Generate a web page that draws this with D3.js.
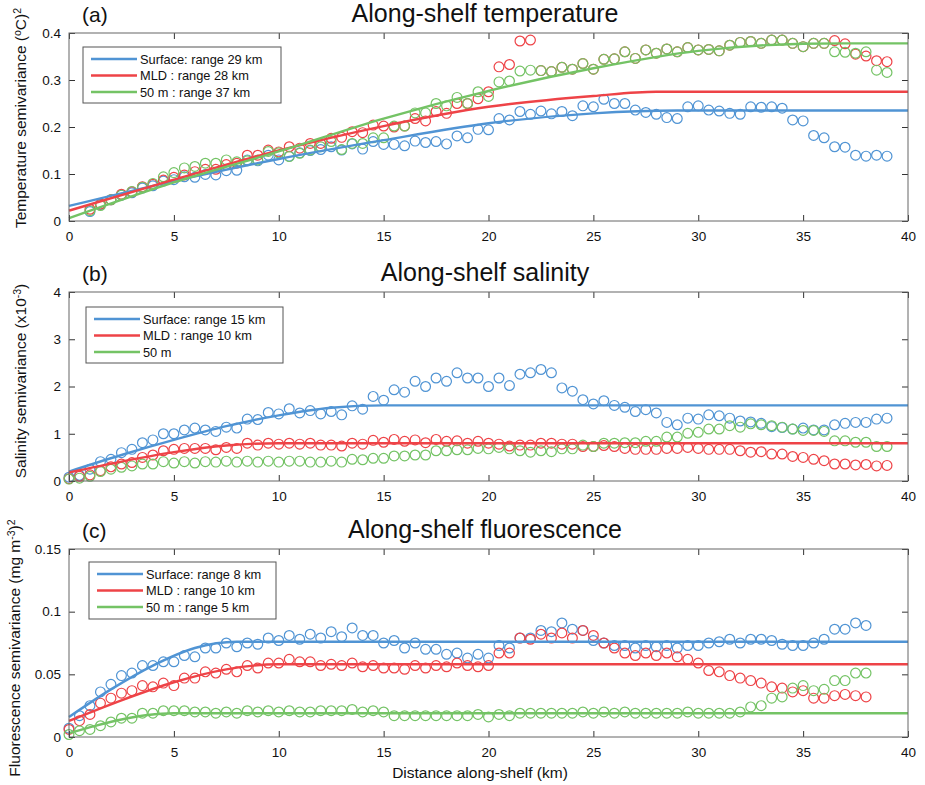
<!DOCTYPE html>
<html>
<head>
<meta charset="utf-8">
<script src="https://cdn.jsdelivr.net/npm/d3@7"></script>
<style>
  body { margin: 0; background: #fff; }
  svg { display: block; }
  text { font-family: "Liberation Sans", Arial, Helvetica, sans-serif; fill: #111; }
</style>
</head>
<body>
<div id="chart"></div>
<script>
// lag bins (km), one every 0.5 km
const lagsTemp = d3.range(1, 39.001, 0.5)
const lagsSal = d3.range(0, 39.001, 0.5)
const lagsFluo = d3.range(0, 38.001, 0.5)

// (a) temperature semivariance
const tempSurface = [
  0.02, 0.035, 0.045, 0.055, 0.06, 0.07, 0.075, 0.085, 0.088, 0.094,
  0.093, 0.099, 0.098, 0.107, 0.108, 0.13, 0.128, 0.14, 0.13, 0.138,
  0.145, 0.15, 0.152, 0.158, 0.151, 0.164, 0.153, 0.169, 0.163, 0.163,
  0.16, 0.17, 0.167, 0.169, 0.164, 0.181, 0.177, 0.195, 0.194, 0.218,
  0.215, 0.233, 0.227, 0.234, 0.228, 0.233, 0.224, 0.245, 0.243, 0.259,
  0.25, 0.25, 0.236, 0.231, 0.227, 0.22, 0.218, 0.243, 0.245, 0.236,
  0.234, 0.229, 0.227, 0.243, 0.242, 0.243, 0.24, 0.215, 0.213, 0.182,
  0.177, 0.158, 0.157, 0.14, 0.138, 0.14, 0.138,
]
const tempMLD = [
  0.025, 0.036, 0.045, 0.057, 0.062, 0.073, 0.078, 0.087, 0.093, 0.098,
  0.105, 0.11, 0.11, 0.12, 0.123, 0.14, 0.14, 0.151, 0.147, 0.158,
  0.155, 0.165, 0.165, 0.176, 0.178, 0.19, 0.188, 0.204, 0.202, 0.2,
  0.202, 0.218, 0.213, 0.233, 0.229, 0.25, 0.25, 0.26, 0.275, 0.328,
  0.333, 0.383, 0.385, 0.32, 0.318, 0.327, 0.323, 0.335, 0.323, 0.344,
  0.345, 0.36, 0.346, 0.364, 0.357, 0.366, 0.36, 0.369, 0.364, 0.365,
  0.362, 0.374, 0.38, 0.382, 0.378, 0.385, 0.385, 0.378, 0.371, 0.378,
  0.378, 0.384, 0.377, 0.355, 0.351, 0.341, 0.339,
]
const temp50m = [
  0.022, 0.033, 0.045, 0.055, 0.063, 0.072, 0.08, 0.094, 0.103, 0.113,
  0.116, 0.123, 0.123, 0.13, 0.126, 0.128, 0.13, 0.148, 0.145, 0.137,
  0.144, 0.151, 0.158, 0.169, 0.152, 0.165, 0.165, 0.177, 0.177, 0.202,
  0.202, 0.23, 0.23, 0.25, 0.245, 0.263, 0.25, 0.275, 0.265, 0.296,
  0.298, 0.319, 0.321, 0.32, 0.318, 0.327, 0.323, 0.335, 0.323, 0.344,
  0.345, 0.36, 0.346, 0.364, 0.357, 0.366, 0.36, 0.369, 0.364, 0.365,
  0.362, 0.374, 0.38, 0.382, 0.378, 0.385, 0.385, 0.378, 0.371, 0.378,
  0.378, 0.36, 0.359, 0.357, 0.36, 0.321, 0.316,
]
// fitted models, read at a few distances
const tempFitSurfaceX = [0, 5, 10, 15, 20, 25, 29, 40]
const tempFitSurface = [0.032, 0.085, 0.132, 0.172, 0.208, 0.229, 0.235, 0.235]
const tempFitMLDX = [0, 5, 10, 15, 20, 25, 28, 40]
const tempFitMLD = [0.022, 0.088, 0.15, 0.202, 0.243, 0.266, 0.275, 0.275]
const tempFit50mX = [0, 5, 10, 15, 20, 25, 30, 35, 37, 40]
const tempFit50m = [0.006, 0.082, 0.148, 0.218, 0.277, 0.325, 0.362, 0.377, 0.378, 0.378]

// (b) salinity semivariance (x10^-3)
const salSurface = [
  0.08, 0.12, 0.25, 0.41, 0.46, 0.6, 0.67, 0.81, 0.87, 1.0,
  1.0, 1.08, 1.12, 1.08, 1.05, 1.14, 1.12, 1.31, 1.3, 1.45,
  1.42, 1.53, 1.44, 1.49, 1.42, 1.47, 1.4, 1.59, 1.52, 1.79,
  1.71, 1.93, 1.88, 2.11, 2.0, 2.18, 2.11, 2.29, 2.18, 2.18,
  2.0, 2.18, 2.02, 2.26, 2.29, 2.36, 2.29, 1.97, 1.9, 1.72,
  1.63, 1.7, 1.6, 1.56, 1.47, 1.51, 1.44, 1.24, 1.19, 1.33,
  1.31, 1.4, 1.38, 1.33, 1.27, 1.25, 1.22, 1.15, 1.13, 1.1,
  1.12, 1.08, 1.08, 1.19, 1.22, 1.24, 1.24, 1.31, 1.33,
]
const salMLD = [
  0.05, 0.1, 0.13, 0.22, 0.3, 0.36, 0.39, 0.5, 0.55, 0.64,
  0.67, 0.69, 0.69, 0.69, 0.66, 0.71, 0.69, 0.8, 0.76, 0.8,
  0.78, 0.8, 0.78, 0.8, 0.76, 0.76, 0.74, 0.8, 0.78, 0.86,
  0.82, 0.88, 0.84, 0.87, 0.81, 0.88, 0.84, 0.85, 0.8, 0.84,
  0.8, 0.78, 0.74, 0.76, 0.76, 0.8, 0.8, 0.78, 0.78, 0.73,
  0.73, 0.75, 0.73, 0.69, 0.67, 0.67, 0.67, 0.69, 0.69, 0.71,
  0.69, 0.67, 0.67, 0.67, 0.64, 0.61, 0.62, 0.57, 0.57, 0.52,
  0.5, 0.46, 0.43, 0.36, 0.36, 0.34, 0.35, 0.32, 0.33,
]
const sal50m = [
  0.04, 0.06, 0.1, 0.2, 0.25, 0.29, 0.32, 0.36, 0.36, 0.41,
  0.38, 0.41, 0.38, 0.41, 0.4, 0.42, 0.4, 0.42, 0.4, 0.42,
  0.4, 0.42, 0.42, 0.4, 0.4, 0.42, 0.4, 0.46, 0.45, 0.48,
  0.48, 0.53, 0.53, 0.55, 0.55, 0.64, 0.64, 0.66, 0.66, 0.69,
  0.68, 0.71, 0.68, 0.64, 0.61, 0.64, 0.62, 0.68, 0.68, 0.76,
  0.73, 0.8, 0.8, 0.81, 0.81, 0.84, 0.84, 0.93, 0.93, 1.01,
  1.03, 1.1, 1.1, 1.17, 1.14, 1.21, 1.19, 1.17, 1.14, 1.1,
  1.07, 1.07, 1.05, 0.85, 0.85, 0.82, 0.82, 0.73, 0.73,
]
const salFitSurfaceX = [0, 2.5, 5, 7.5, 10, 12.5, 15, 40]
const salFitSurface = [0.2, 0.55, 0.87, 1.16, 1.39, 1.55, 1.6, 1.6]
const salFitMLDX = [0, 2.5, 5, 7.5, 10, 40]
const salFitMLD = [0.18, 0.41, 0.61, 0.75, 0.8, 0.8]

// (c) fluorescence semivariance
const fluoSurface = [
  0.007, 0.017, 0.025, 0.036, 0.042, 0.049, 0.051, 0.057, 0.057, 0.06,
  0.06, 0.065, 0.064, 0.071, 0.071, 0.075, 0.072, 0.075, 0.074, 0.079,
  0.077, 0.081, 0.078, 0.082, 0.079, 0.084, 0.08, 0.087, 0.081, 0.081,
  0.075, 0.077, 0.071, 0.075, 0.07, 0.07, 0.066, 0.067, 0.063, 0.066,
  0.063, 0.073, 0.071, 0.079, 0.079, 0.085, 0.084, 0.091, 0.086, 0.085,
  0.077, 0.075, 0.073, 0.073, 0.071, 0.073, 0.072, 0.073, 0.071, 0.073,
  0.073, 0.075, 0.076, 0.078, 0.075, 0.078, 0.078, 0.077, 0.074, 0.073,
  0.073, 0.075, 0.078, 0.086, 0.086, 0.091, 0.089,
]
const fluoMLD = [
  0.006, 0.013, 0.018, 0.027, 0.031, 0.035, 0.037, 0.041, 0.04, 0.043,
  0.041, 0.047, 0.047, 0.052, 0.051, 0.054, 0.052, 0.057, 0.055, 0.059,
  0.059, 0.062, 0.06, 0.06, 0.057, 0.058, 0.057, 0.059, 0.056, 0.057,
  0.055, 0.055, 0.054, 0.057, 0.055, 0.057, 0.056, 0.059, 0.057, 0.056,
  0.057, 0.067, 0.067, 0.079, 0.078, 0.082, 0.079, 0.083, 0.079, 0.085,
  0.081, 0.075, 0.071, 0.067, 0.065, 0.067, 0.065, 0.067, 0.064, 0.062,
  0.059, 0.053, 0.052, 0.049, 0.047, 0.045, 0.043, 0.04, 0.039, 0.036,
  0.037, 0.031, 0.031, 0.033, 0.034, 0.033, 0.032,
]
const fluo50m = [
  0.002, 0.005, 0.006, 0.009, 0.012, 0.015, 0.015, 0.019, 0.019, 0.021,
  0.021, 0.021, 0.02, 0.02, 0.019, 0.02, 0.019, 0.021, 0.02, 0.021,
  0.02, 0.021, 0.02, 0.02, 0.021, 0.021, 0.021, 0.022, 0.02, 0.021,
  0.02, 0.017, 0.017, 0.017, 0.017, 0.017, 0.017, 0.017, 0.017, 0.018,
  0.016, 0.018, 0.017, 0.019, 0.019, 0.019, 0.019, 0.019, 0.019, 0.02,
  0.019, 0.02, 0.019, 0.02, 0.019, 0.019, 0.019, 0.019, 0.019, 0.02,
  0.019, 0.019, 0.019, 0.019, 0.02, 0.024, 0.025, 0.031, 0.032, 0.039,
  0.041, 0.037, 0.038, 0.045, 0.045, 0.051, 0.051,
]
const fluoFitSurfaceX = [0, 2, 4, 6, 8, 40]
const fluoFitSurface = [0.016, 0.038, 0.057, 0.071, 0.076, 0.076]
const fluoFitMLDX = [0, 2.5, 5, 7.5, 10, 40]
const fluoFitMLD = [0.0128, 0.0293, 0.0437, 0.054, 0.058, 0.058]
const fluoFit50mX = [0, 1.25, 2.5, 3.75, 5, 40]
const fluoFit50m = [0.003, 0.0089, 0.014, 0.0176, 0.019, 0.019]

const xTicks = [0, 5, 10, 15, 20, 25, 30, 35, 40]
const colors = { surface: '#5094d4', mld: '#ee4347', m50: '#74c365' }

const width = 925
const height = 785
const plotLeft = 69
const plotRight = 908

const svg = d3.select('#chart').append('svg').attr('width', width).attr('height', height)

const x = d3.scaleLinear().domain([0, 40]).range([plotLeft, plotRight])

const zip = (xs, ys) => xs.map((d, i) => [d, ys[i]])

const panels = [
  {
    tag: '(a)', title: 'Along-shelf temperature', top: 33, bottom: 221,
    yMax: 0.4, yTicks: [0, 0.1, 0.2, 0.3, 0.4], labelX: 26, labelY: 118,
    ylabel: [['Temperature semivariance (', 0], ['o', 1], ['C)', 0], ['2', 1]],
    legend: { dx: 14, dy: 14, w: 198, h: 56 },
    legendText: ['Surface: range 29 km', 'MLD : range 28 km', '50 m : range 37 km'],
    points: [[lagsTemp, tempSurface, 'surface'], [lagsTemp, tempMLD, 'mld'], [lagsTemp, temp50m, 'm50']],
    fits: [[tempFitSurfaceX, tempFitSurface, 'surface'], [tempFitMLDX, tempFitMLD, 'mld'], [tempFit50mX, tempFit50m, 'm50']],
  },
  {
    tag: '(b)', title: 'Along-shelf salinity', top: 292, bottom: 481,
    yMax: 4, yTicks: [0, 1, 2, 3, 4], labelX: 26, labelY: 381,
    ylabel: [['Salinity semivariance (x10', 0], ['-3', 1], [')', 0]],
    legend: { dx: 17, dy: 15, w: 197, h: 56 },
    legendText: ['Surface: range 15 km', 'MLD : range 10 km', '50 m'],
    points: [[lagsSal, salSurface, 'surface'], [lagsSal, salMLD, 'mld'], [lagsSal, sal50m, 'm50']],
    fits: [[salFitSurfaceX, salFitSurface, 'surface'], [salFitMLDX, salFitMLD, 'mld']],
  },
  {
    tag: '(c)', title: 'Along-shelf fluorescence', top: 549, bottom: 737,
    yMax: 0.15, yTicks: [0, 0.05, 0.1, 0.15], labelX: 20, labelY: 648,
    ylabel: [['Fluorescence semivariance (mg m', 0], ['-3', 1], [')', 0], ['2', 1]],
    legend: { dx: 20, dy: 13, w: 187, h: 57 },
    legendText: ['Surface: range 8 km', 'MLD : range 10 km', '50 m : range 5 km'],
    points: [[lagsFluo, fluoSurface, 'surface'], [lagsFluo, fluoMLD, 'mld'], [lagsFluo, fluo50m, 'm50']],
    fits: [[fluoFitSurfaceX, fluoFitSurface, 'surface'], [fluoFitMLDX, fluoFitMLD, 'mld'], [fluoFit50mX, fluoFit50m, 'm50']],
  },
]

panels.forEach(p => {
  const y = d3.scaleLinear().domain([0, p.yMax]).range([p.bottom, p.top])
  const g = svg.append('g')

  // 標記點
  p.points.forEach(([xs, ys, key]) => {
    g.append('g')
      .selectAll('circle')
      .data(zip(xs, ys))
      .join('circle')
      .attr('cx', d => x(d[0]))
      .attr('cy', d => y(d[1]))
      .attr('r', 4.9)
      .attr('fill', 'none')
      .attr('stroke', colors[key])
      .attr('stroke-width', 1.2)
  })

  // 擬合曲線
  const line = d3.line().x(d => x(d[0])).y(d => y(d[1])).curve(d3.curveMonotoneX)
  p.fits.forEach(([xs, ys, key]) => {
    g.append('path')
      .attr('d', line(zip(xs, ys)))
      .attr('fill', 'none')
      .attr('stroke', colors[key])
      .attr('stroke-width', 2.4)
  })

  // axes, ticks inside
  const xAxis = d3.axisBottom(x).tickValues(xTicks).tickSize(-6).tickPadding(10)
  const xTop = d3.axisTop(x).tickValues(xTicks).tickSize(-6).tickFormat('')
  const yAxis = d3.axisLeft(y).tickValues(p.yTicks).tickSize(-6).tickPadding(8)
    .tickFormat(d => (d === 0 ? '0' : String(d)))
  const yRight = d3.axisRight(y).tickValues(p.yTicks).tickSize(-6).tickFormat('')

  const styleAxis = sel => {
    sel.select('.domain').remove()
    sel.selectAll('line').attr('stroke', '#333')
    sel.selectAll('text').style('font-size', '13.5px').attr('fill', '#111')
  }
  g.append('g').attr('transform', `translate(0,${p.bottom})`).call(xAxis).call(styleAxis)
  g.append('g').attr('transform', `translate(0,${p.top})`).call(xTop).call(styleAxis)
  g.append('g').attr('transform', `translate(${plotLeft},0)`).call(yAxis).call(styleAxis)
  g.append('g').attr('transform', `translate(${plotRight},0)`).call(yRight).call(styleAxis)

  g.append('rect')
    .attr('x', plotLeft).attr('y', p.top)
    .attr('width', plotRight - plotLeft).attr('height', p.bottom - p.top)
    .attr('fill', 'none').attr('stroke', '#666').attr('stroke-width', 1)

  // 標題
  g.append('text')
    .attr('x', 485).attr('y', p.top - 11)
    .attr('text-anchor', 'middle')
    .style('font-size', '25px')
    .text(p.title)
  g.append('text')
    .attr('x', 82).attr('y', p.top - 11)
    .style('font-size', '21px')
    .text(p.tag)

  // y label with superscripts
  const yl = g.append('text')
    .attr('transform', `translate(${p.labelX},${p.labelY}) rotate(-90)`)
    .attr('text-anchor', 'middle')
    .style('font-size', '15.5px')
  let raised = false
  p.ylabel.forEach(([t, sup]) => {
    const ts = yl.append('tspan').text(t)
    if (sup && !raised) ts.attr('dy', -5).style('font-size', '10.5px')
    if (!sup && raised) ts.attr('dy', 5)
    if (sup && raised) ts.style('font-size', '10.5px')
    raised = !!sup
  })

  // 圖例
  const lg = g.append('g').attr('transform', `translate(${plotLeft + p.legend.dx},${p.top + p.legend.dy})`)
  lg.append('rect')
    .attr('width', p.legend.w).attr('height', p.legend.h)
    .attr('fill', '#fff').attr('stroke', '#555').attr('stroke-width', 1)
  const keys = ['surface', 'mld', 'm50']
  p.legendText.forEach((t, i) => {
    const cy = 12 + i * 16.5
    lg.append('line')
      .attr('x1', 8).attr('x2', 54).attr('y1', cy).attr('y2', cy)
      .attr('stroke', colors[keys[i]]).attr('stroke-width', 2.4)
    lg.append('text')
      .attr('x', 57).attr('y', cy + 4.5)
      .style('font-size', '12.8px')
      .text(t)
  })
})

svg.append('text')
  .attr('x', 480).attr('y', 778)
  .attr('text-anchor', 'middle')
  .style('font-size', '15.5px')
  .text('Distance along-shelf (km)')
</script>
</body>
</html>
